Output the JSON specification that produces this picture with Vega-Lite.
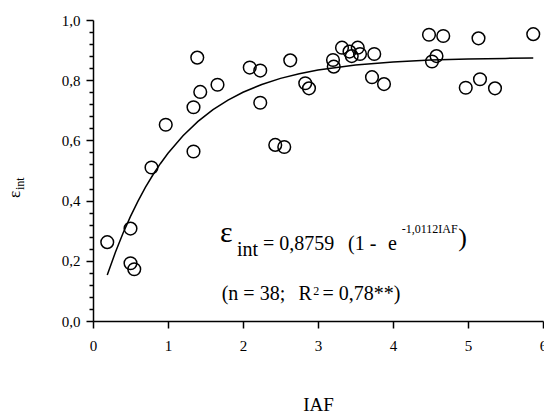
{
  "$schema": "https://vega.github.io/schema/vega-lite/v6.json",
  "width": 450,
  "height": 301,
  "autosize": {"type": "none"},
  "padding": {"left": 93, "top": 20, "right": 1, "bottom": 97},
  "config": {
    "view": {"stroke": null},
    "font": "Liberation Serif",
    "axis": {
      "grid": false,
      "domainColor": "black",
      "domainWidth": 1.5,
      "tickColor": "black",
      "tickWidth": 1.5,
      "labelColor": "black",
      "labelFont": "Liberation Serif",
      "labelFontSize": 15,
      "titleFont": "Liberation Serif",
      "titleFontWeight": "normal",
      "titleColor": "black",
      "labelFlush": false,
      "labelOverlap": false
    },
    "text": {"font": "Liberation Serif", "color": "black"}
  },
  "datasets": {
    "obs": [
      {"IAF": 0.19, "eps": 0.262},
      {"IAF": 0.50, "eps": 0.307},
      {"IAF": 0.50, "eps": 0.192},
      {"IAF": 0.55, "eps": 0.172},
      {"IAF": 0.78, "eps": 0.51},
      {"IAF": 0.97, "eps": 0.652},
      {"IAF": 1.34, "eps": 0.563},
      {"IAF": 1.34, "eps": 0.71},
      {"IAF": 1.39, "eps": 0.875},
      {"IAF": 1.43, "eps": 0.761},
      {"IAF": 1.66, "eps": 0.785},
      {"IAF": 2.09, "eps": 0.842},
      {"IAF": 2.23, "eps": 0.832},
      {"IAF": 2.23, "eps": 0.725},
      {"IAF": 2.43, "eps": 0.585},
      {"IAF": 2.55, "eps": 0.578},
      {"IAF": 2.63, "eps": 0.866},
      {"IAF": 2.83, "eps": 0.79},
      {"IAF": 2.88, "eps": 0.773},
      {"IAF": 3.20, "eps": 0.867},
      {"IAF": 3.21, "eps": 0.845},
      {"IAF": 3.32, "eps": 0.908},
      {"IAF": 3.42, "eps": 0.895},
      {"IAF": 3.45, "eps": 0.880},
      {"IAF": 3.53, "eps": 0.908},
      {"IAF": 3.56, "eps": 0.887},
      {"IAF": 3.75, "eps": 0.887},
      {"IAF": 3.72, "eps": 0.81},
      {"IAF": 3.88, "eps": 0.787},
      {"IAF": 4.48, "eps": 0.951},
      {"IAF": 4.67, "eps": 0.947},
      {"IAF": 4.52, "eps": 0.862},
      {"IAF": 4.58, "eps": 0.88},
      {"IAF": 5.14, "eps": 0.939},
      {"IAF": 4.97, "eps": 0.775},
      {"IAF": 5.16, "eps": 0.803},
      {"IAF": 5.36, "eps": 0.773},
      {"IAF": 5.87, "eps": 0.953}
    ],
    "fit": [
      {"IAF": 0.19, "eps": 0.1531},
      {"IAF": 0.3, "eps": 0.2292},
      {"IAF": 0.4, "eps": 0.2914},
      {"IAF": 0.5, "eps": 0.3476},
      {"IAF": 0.6, "eps": 0.3984},
      {"IAF": 0.7, "eps": 0.4444},
      {"IAF": 0.8, "eps": 0.4859},
      {"IAF": 0.9, "eps": 0.5234},
      {"IAF": 1.0, "eps": 0.5573},
      {"IAF": 1.2, "eps": 0.6156},
      {"IAF": 1.4, "eps": 0.6632},
      {"IAF": 1.6, "eps": 0.7022},
      {"IAF": 1.8, "eps": 0.7340},
      {"IAF": 2.0, "eps": 0.7600},
      {"IAF": 2.25, "eps": 0.7859},
      {"IAF": 2.5, "eps": 0.8060},
      {"IAF": 2.75, "eps": 0.8216},
      {"IAF": 3.0, "eps": 0.8338},
      {"IAF": 3.5, "eps": 0.8505},
      {"IAF": 4.0, "eps": 0.8606},
      {"IAF": 4.5, "eps": 0.8667},
      {"IAF": 5.0, "eps": 0.8703},
      {"IAF": 5.5, "eps": 0.8725},
      {"IAF": 5.87, "eps": 0.8736}
    ]
  },
  "layer": [
    {
      "data": {"name": "fit"},
      "mark": {"type": "line", "color": "black", "strokeWidth": 1.5},
      "encoding": {
        "x": {
          "field": "IAF", "type": "quantitative",
          "scale": {"domain": [0, 6], "nice": false, "zero": false},
          "axis": {
            "values": [0, 1, 2, 3, 4, 5, 6],
            "tickCount": 20,
            "format": "d",
            "tickSize": 7,
            "labelPadding": 10,
            "labelOverlap": false,
            "title": "IAF",
            "titleFontSize": 19,
            "titlePadding": 42
          }
        },
        "y": {
          "field": "eps", "type": "quantitative",
          "scale": {"domain": [0, 1], "nice": false},
          "axis": {
            "values": [0, 0.04, 0.08, 0.12, 0.16, 0.2, 0.24, 0.28, 0.32, 0.36, 0.4, 0.44, 0.48, 0.52, 0.56, 0.6, 0.64, 0.68, 0.72, 0.76, 0.8, 0.84, 0.88, 0.92, 0.96, 1.0],
            "tickCount": 60,
            "tickSize": {"condition": {"test": "abs(datum.value*5 - round(datum.value*5)) < 0.01", "value": 7}, "value": 4},
            "labelExpr": "abs(datum.value*5 - round(datum.value*5)) < 0.01 ? replace(format(datum.value, '.1f'), '.', ',') : ''",
            "labelPadding": 6,
            "labelOverlap": false,
            "labelBound": false,
            "title": null
          }
        }
      }
    },
    {
      "data": {"name": "obs"},
      "mark": {"type": "point", "shape": "circle", "filled": false, "stroke": "black", "strokeWidth": 1.5, "size": 160, "opacity": 1},
      "encoding": {
        "x": {"field": "IAF", "type": "quantitative"},
        "y": {"field": "eps", "type": "quantitative"}
      }
    },
    {
      "data": {"values": [{}]},
      "mark": {"type": "text", "text": "ε", "fontSize": 30, "align": "left", "baseline": "alphabetic"},
      "encoding": {"x": {"datum": 1.693}, "y": {"datum": 0.262}}
    },
    {
      "data": {"values": [{}]},
      "mark": {"type": "text", "text": "int", "fontSize": 20, "align": "left", "baseline": "alphabetic"},
      "encoding": {"x": {"datum": 1.92}, "y": {"datum": 0.216}}
    },
    {
      "data": {"values": [{}]},
      "mark": {"type": "text", "text": "= 0,8759", "fontSize": 20, "align": "left", "baseline": "alphabetic"},
      "encoding": {"x": {"datum": 2.267}, "y": {"datum": 0.236}}
    },
    {
      "data": {"values": [{}]},
      "mark": {"type": "text", "text": "(1 -", "fontSize": 20, "align": "left", "baseline": "alphabetic"},
      "encoding": {"x": {"datum": 3.40}, "y": {"datum": 0.236}}
    },
    {
      "data": {"values": [{}]},
      "mark": {"type": "text", "text": "e", "fontSize": 20, "align": "left", "baseline": "alphabetic"},
      "encoding": {"x": {"datum": 3.933}, "y": {"datum": 0.236}}
    },
    {
      "data": {"values": [{}]},
      "mark": {"type": "text", "text": "-1,0112IAF", "fontSize": 12, "align": "left", "baseline": "alphabetic"},
      "encoding": {"x": {"datum": 4.116}, "y": {"datum": 0.292}}
    },
    {
      "data": {"values": [{}]},
      "mark": {"type": "text", "text": ")", "fontSize": 26, "align": "left", "baseline": "alphabetic"},
      "encoding": {"x": {"datum": 4.87}, "y": {"datum": 0.249}}
    },
    {
      "data": {"values": [{}]},
      "mark": {"type": "text", "text": "(n = 38;", "fontSize": 20, "align": "left", "baseline": "alphabetic"},
      "encoding": {"x": {"datum": 1.716}, "y": {"datum": 0.0698}}
    },
    {
      "data": {"values": [{}]},
      "mark": {"type": "text", "text": "R", "fontSize": 20, "align": "left", "baseline": "alphabetic"},
      "encoding": {"x": {"datum": 2.74}, "y": {"datum": 0.0698}}
    },
    {
      "data": {"values": [{}]},
      "mark": {"type": "text", "text": "2", "fontSize": 12, "align": "left", "baseline": "alphabetic"},
      "encoding": {"x": {"datum": 2.935}, "y": {"datum": 0.0864}}
    },
    {
      "data": {"values": [{}]},
      "mark": {"type": "text", "text": "= 0,78**)", "fontSize": 20, "align": "left", "baseline": "alphabetic"},
      "encoding": {"x": {"datum": 3.06}, "y": {"datum": 0.0698}}
    },
    {
      "data": {"values": [{}]},
      "mark": {"type": "text", "text": "ε", "fontSize": 17, "align": "left", "baseline": "alphabetic", "angle": 270},
      "encoding": {"x": {"datum": -0.973}, "y": {"datum": 0.4086}}
    },
    {
      "data": {"values": [{}]},
      "mark": {"type": "text", "text": "int", "fontSize": 12, "align": "left", "baseline": "alphabetic", "angle": 270},
      "encoding": {"x": {"datum": -0.92}, "y": {"datum": 0.435}}
    }
  ]
}
